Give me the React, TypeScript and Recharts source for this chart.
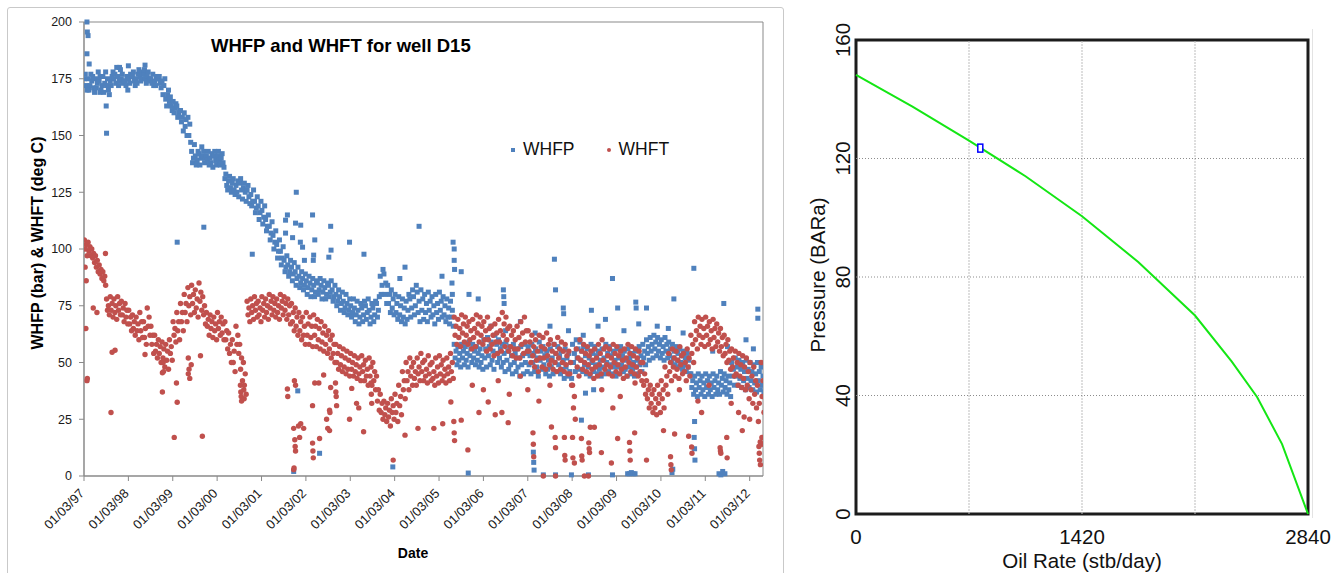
import React from "react";
import {
  ScatterChart,
  Scatter,
  LineChart,
  Line,
  XAxis,
  YAxis,
  Legend,
  ReferenceArea,
  ReferenceLine,
  ReferenceDot,
} from "recharts";

const FONT = "'Liberation Sans', Arial, Helvetica, sans-serif";
const BLUE = "#4F81BD";
const RED = "#C0504D";

// yearly date ticks, first of March
const dateLabels = [
  "01/03/97", "01/03/98", "01/03/99", "01/03/00", "01/03/01", "01/03/02",
  "01/03/03", "01/03/04", "01/03/05", "01/03/06", "01/03/07", "01/03/08",
  "01/03/09", "01/03/10", "01/03/11", "01/03/12",
];

// wellhead flowing pressure (bar), four readings per month from Mar 1997
const whfpMonthly: number[][] = [
  [175,172,177,170],[175,172,170,177],[174,171,176,169],[175,173,171,178],[174,170,176,172],[176,173,169,178],
  [172,170,175,168],[174,176,172,178],[175,173,177,180],[176,174,172,179],[175,173,177,174],[174,176,172,170],
  [175,177,173,176],[176,174,178,172],[175,177,173,179],[176,178,174,175],[177,175,179,173],[176,174,178,175],
  [175,177,173,172],[174,176,172,175],[175,173,176,171],[174,172,168,175],[166,168,163,170],[165,163,167,161],
  [165,162,160,164],[163,160,158,161],[161,158,156,152],[160,157,154,150],[158,155,150,147],[143,140,138,146],
  [141,139,137,143],[142,140,137,145],[141,138,143,140],[141,143,139,137],[140,142,138,136],[141,139,143,137],
  [141,139,143,137],[140,138,142,136],[131,128,133,126],[130,127,132,125],[129,126,131,124],[128,130,125,123],
  [129,126,131,122],[127,125,129,121],[126,123,128,120],[124,121,119,126],[121,118,116,123],[119,116,113,121],
  [117,114,111,119],[113,110,108,115],[110,107,104,112],[106,103,100,108],[102,99,96,104],[99,96,93,101],
  [95,92,90,97],[93,90,88,95],[92,89,86,94],[90,87,84,92],[88,85,83,90],[87,84,82,89],
  [86,83,80,88],[85,82,79,87],[84,81,79,86],[85,82,80,87],[84,81,78,86],[83,80,78,85],
  [84,81,79,86],[82,79,77,84],[80,77,75,82],[79,76,73,81],[77,74,72,80],[76,73,71,78],
  [75,72,70,78],[74,71,68,77],[73,70,67,76],[74,71,68,77],[75,72,69,78],[73,70,67,76],
  [74,71,68,77],[76,73,70,79],[88,84,80,91],[89,85,80,76],[84,80,76,72],[82,78,74,71],
  [80,76,72,69],[79,75,71,68],[78,74,70,67],[77,73,69,80],[78,74,70,82],[79,75,71,84],
  [81,77,72,68],[82,78,73,69],[80,76,72,68],[81,77,73,70],[79,75,71,67],[80,76,72,69],
  [81,77,73,70],[79,75,71,68],[78,74,70,67],[77,73,70,66],[58,55,52,49],[57,54,51,48],
  [58,55,52,49],[57,54,51,48],[59,56,53,50],[58,55,52,49],[57,54,51,48],[56,53,50,47],
  [60,56,52,48],[61,57,53,49],[59,55,51,47],[62,58,54,50],[60,56,52,48],[58,54,50,46],
  [59,55,51,47],[57,53,49,45],[58,54,50,46],[56,52,48,44],[57,53,49,45],[58,54,50,46],
  [57,53,49,45],[58,54,50,46],[56,52,48,44],[59,55,51,47],[57,53,49,45],[55,51,47,44],
  [56,52,48,45],[58,54,50,46],[57,53,49,45],[55,51,47,43],[56,52,48,44],[54,50,46,43],
  [58,54,50,46],[60,56,52,47],[59,55,51,46],[57,53,49,45],[56,52,48,44],[58,54,50,46],
  [57,53,49,45],[55,51,47,44],[56,52,48,45],[58,54,50,46],[57,53,49,45],[55,51,48,44],
  [56,52,48,45],[57,53,49,46],[55,51,47,44],[56,52,48,45],[54,50,47,44],[55,51,48,45],
  [57,53,49,46],[58,55,52,49],[60,57,54,51],[61,58,55,52],[62,59,56,53],[61,58,55,52],
  [60,57,54,51],[61,58,55,52],[59,56,53,50],[58,55,52,49],[57,54,51,48],[56,53,50,47],
  [55,52,49,46],[54,51,48,45],[45,42,39,36],[44,41,38,35],[45,42,39,36],[44,41,38,35],
  [45,42,39,36],[44,41,38,35],[45,42,39,36],[44,41,38,36],[46,43,40,37],[45,42,39,36],
  [44,41,38,35],[50,47,44,40],[52,48,44,40],[51,47,43,39],[50,46,42,38],[51,47,43,39],
  [50,46,42,38],[49,45,41,37],[50,46,42,38],[48,44,40,37],
];

// wellhead flowing temperature (deg C), same sampling
const whftMonthly: number[][] = [
  [104,102,100,97],[103,101,99,97],[100,98,96,94],[97,95,92,90],[93,91,89,87],[90,88,86,84],
  [78,75,73,71],[79,76,73,70],[78,75,72,69],[79,76,73,71],[77,74,71,68],[76,73,70,67],
  [73,70,67,64],[71,68,65,62],[70,67,64,60],[72,68,64,61],[68,65,61,58],[74,70,66,62],
  [66,62,58,54],[62,58,55,52],[60,57,54,50],[59,56,52,48],[58,55,51,47],[60,57,54,51],
  [68,65,62,59],[72,68,64,60],[76,72,68,64],[80,76,72,68],[83,79,75,71],[84,80,76,72],
  [82,78,74,70],[85,81,77,73],[79,75,71,67],[72,69,66,62],[71,68,65,61],[70,67,64,60],
  [72,68,65,62],[70,67,63,60],[68,64,60,56],[63,58,54,50],[60,55,50,46],[66,62,58,54],
  [58,52,47,42],[50,45,40,36],[77,74,71,68],[78,75,72,69],[79,76,73,70],[77,74,71,68],
  [79,76,73,70],[78,75,72,69],[80,77,74,71],[79,76,73,70],[78,75,72,69],[80,77,74,71],
  [79,76,73,69],[78,75,71,67],[76,72,68,64],[74,70,66,62],[72,68,64,60],[70,66,62,58],
  [72,67,62,58],[70,66,61,57],[71,66,62,57],[69,65,60,56],[68,63,59,55],[66,62,58,54],
  [64,60,56,52],[62,58,54,50],[58,54,50,47],[57,53,49,46],[56,52,48,45],[55,51,47,44],
  [54,50,47,44],[53,49,46,43],[52,48,45,42],[53,49,46,42],[51,47,44,40],[52,48,44,40],
  [50,46,42,38],[44,38,33,29],[36,32,28,25],[33,30,27,24],[32,29,26,22],[34,31,28,25],
  [36,32,28,24],[40,35,31,27],[46,42,38,34],[50,46,42,38],[52,48,44,40],[50,46,43,40],
  [52,48,45,42],[54,50,46,42],[51,47,44,41],[53,49,45,42],[50,46,43,40],[52,48,44,41],
  [53,49,45,42],[51,47,44,41],[52,48,45,42],[54,50,46,43],[70,66,62,58],[69,65,61,57],
  [71,67,63,59],[70,66,62,58],[68,64,60,56],[69,65,61,57],[71,67,63,59],[70,66,62,58],
  [68,64,60,55],[70,65,60,56],[66,62,58,53],[67,63,59,54],[69,64,59,55],[72,67,62,57],
  [70,65,60,55],[66,62,57,53],[64,60,56,52],[66,61,56,52],[68,63,58,54],[70,64,59,55],
  [64,59,55,50],[62,57,53,48],[60,55,51,46],[62,57,52,48],[61,56,52,47],[63,58,53,49],
  [60,55,51,47],[58,54,50,46],[61,56,52,47],[59,55,50,46],[58,53,49,45],[55,50,45,40],
  [40,35,30,25],[56,52,48,44],[60,55,51,47],[58,54,50,46],[57,53,49,45],[55,51,47,43],
  [56,52,48,44],[58,54,49,45],[60,56,51,47],[57,53,49,45],[56,52,48,44],[58,54,50,46],
  [57,53,49,45],[55,51,47,43],[56,52,48,44],[58,54,50,46],[57,53,49,45],[56,52,48,44],
  [55,50,46,42],[50,45,40,36],[42,38,34,30],[40,36,32,28],[38,34,30,27],[40,36,32,28],
  [42,38,34,30],[48,44,40,36],[54,50,46,42],[56,52,48,44],[55,51,47,43],[57,53,49,45],
  [54,50,46,42],[56,52,48,44],[62,58,54,50],[68,64,60,56],[70,66,62,58],[69,65,61,57],
  [70,66,62,58],[68,64,60,56],[69,65,61,57],[67,63,59,55],[65,61,57,53],[62,58,54,50],
  [60,55,51,47],[56,52,48,44],[55,50,45,40],[54,49,44,39],[53,48,43,38],[52,46,40,34],
  [50,44,38,32],[48,42,36,30],[40,32,24,15],[50,42,35,28],
];

// isolated pressure readings off the trend: [month, bar]
const whfpSpikes: [number, number][] = [
  [0.8,200],[0.9,195.6],[1.1,194],[0.8,186],[1.4,181.5],[6.0,163],[6.1,151],[4.3,169],[9.6,180],[12,180.7],
  [16.5,181],[25.2,103],[32.4,109.6],[45.5,97.7],[57.4,125],[55,115],[54.5,112.7],[57.2,111.4],[58.6,110.5],
  [61.8,115],[66.7,110],[62.4,104],[66.8,99.5],[71.8,103],[75.7,97.7],[66.2,96.4],[62,95],[58.5,103],
  [59.1,100.8],[62.1,97.3],[56.4,105],[54.5,107],[59.6,95],[90.6,110],[99.8,103],[100.1,100],[100.1,95],
  [100.2,91],[102,90],[86.8,92],[127.2,95.5],[127.5,82],[142.9,87],[164.9,91.5],[173,76],[182.2,73.5],
  [182.2,69.5],[159.5,78],[149.2,76.6],[149.3,74],[152.1,74],[144.3,74],[137.2,73],[129.6,74],[129.7,71.5],
  [113.4,82],[113.5,79],[113.6,76],[104.1,80],[106.6,78],[85.4,87],[96.8,88],[99.5,85],[99.6,80],
  [110,66],[114,64],[118,68],[122,63],[126,66],[131,64],[135,62],[139,66],[141,69],[146,64],[150,67],
  [155,66],[158,65],[162,63],[170,55],[174,57],[179,60],[181,56],
  [57.8,37.5],[56.7,2],[63.7,10],[83.5,4],[103.9,1.3],[121.5,10.5],[121.6,6],[121.7,2.6],[124.2,0.5],
  [127.5,0.5],[131.8,0.5],[134.5,24.6],[135.6,36.5],[137.8,38],[136.4,0.5],[142.9,0.5],[147,1],[147.5,1],
  [148,1.5],[148.5,1],[149,1],[159,1.5],[159.2,3],[165,17],[165.1,12],[165.2,7],[165.1,24],[171.7,1],
  [172.2,0.5],[172.7,2],[173.3,1],
];

// isolated temperature readings off the trend: [month, deg C]
const whftSpikes: [number, number][] = [
  [0.3,92],[0.6,86],[0.5,65],[0.9,43],[0.8,42],[5.8,98],[2.5,74],[3.5,72],[7.3,28],[7.6,54.5],[8.4,55.4],
  [16.5,53.5],[21.2,45.5],[21.2,37],[21.4,50],[21.5,46],[24.4,17],[25.2,32.5],[25,41],[28.2,45],[28.4,47],
  [28.6,43],[28.2,52],[29,49],[31.5,53],[32,17.5],[42.3,40],[42.4,37],[42.5,35],[42.6,33],[43.2,38],
  [43.3,34],[55,38.3],[55.1,35],[56.9,42],[57.2,40],[56.7,21],[57,16],[57.1,13],[57.2,11],[56.7,2.8],
  [56.8,3.5],[58,22],[58.6,23],[59.4,21],[58.3,17],[61.8,31],[61.8,14.5],[61.9,11],[62,8],[62.4,41],
  [63.5,41],[63.7,16.5],[64.8,44.5],[65.6,25],[65.9,21],[66.4,29],[66.5,28],[66.4,20],[66.7,39],[68,41],
  [68.1,37],[68.2,35],[68.3,31],[71.8,25],[72.4,38.6],[73.7,32],[74.3,30],[75.6,19.5],[77.6,41],[77.7,36],
  [77.8,32],[83.6,7],[86.8,18],[90.3,21],[94.6,21],[97,23],[100,24],[100.1,19],[100.2,15.6],[102,24.6],
  [103.8,11.5],[99.2,32.6],[106.8,28],[109.3,32.6],[111.2,27],[113,28],[114.7,23.5],[121.4,19],[121.5,14],
  [121.6,8.5],[124.2,0],[127.5,0],[126.4,21.6],[127.4,17],[127.5,12.5],[129.9,17],[130,9],[130.1,7],
  [132.1,17],[132.2,8],[132.6,5.7],[134.5,16.5],[134.6,8.8],[134.7,7],[135.3,0],[136.4,0],[136.5,14.6],
  [136.6,12],[136.7,10.3],[136.9,21.5],[138,21.5],[139.9,10.3],[142.6,5.7],[144.3,16.5],[147.5,14.8],
  [147.6,11],[147.7,7],[148.9,19],[152.1,7],[156.7,20],[158.6,8.5],[158.7,5],[158.8,2.7],[159.7,18.5],
  [163.5,17.5],[164.3,12.8],[164.4,10],[172,12.5],[172.1,11],[172.2,10],[173.8,17],[173.9,8],[178,20],
  [178.5,26],[182.5,13],[182.6,10],[182.7,7],[182.9,5],[183.3,17],[183.4,14],
  [105,40],[108,38],[112,42],[115,36],[118,44],[120,38],[123,33],[126,40],[140,38],[143,30],[145,35],
  [149,41],[161,38],[166,33],[167,28],[169,40],[175,32],[177,28],[180,25],
];

// inflow performance curve
const iprRate = [0, 355, 710, 1065, 1420, 1775, 2130, 2360, 2520, 2677, 2840];
const iprPressure = [148.2, 137.5, 126, 114, 100.5, 85, 67, 51.5, 39.5, 23.6, 0];
const operatingPoint = { rate: 781, pressure: 123.5 };

const rateTicks = [0, 1420, 2840];
const rateGrid = [710, 1420, 2130];
const pressureTicks = [0, 40, 80, 120, 160];
const pressureGrid = [40, 80, 120];

// spread the four monthly readings across the month
const SLOT = [0.1, 0.6, 0.35, 0.85];

function toPoints(monthly: number[][], spikes: [number, number][]) {
  const pts: { x: number; y: number }[] = [];
  monthly.forEach((vals, m) => vals.forEach((v, k) => pts.push({ x: m + SLOT[k], y: v })));
  spikes.forEach(([m, v]) => pts.push({ x: m, y: v }));
  return pts;
}

const whfpPoints = toPoints(whfpMonthly, whfpSpikes);
const whftPoints = toPoints(whftMonthly, whftSpikes);
const iprData = iprRate.map((rate, i) => ({ rate, pressure: iprPressure[i] }));

const SquareDot = (p: any) => (
  <rect x={p.cx - 2.5} y={p.cy - 2.5} width={5} height={5} fill={BLUE} />
);
const RoundDot = (p: any) => <circle cx={p.cx} cy={p.cy} r={2.7} fill={RED} />;

const DateTick = ({ x, y, payload }: any) => {
  const ax = x - 2;
  const ay = y + 8;
  return (
    <text
      x={ax}
      y={ay}
      dy="0.35em"
      textAnchor="end"
      transform={`rotate(-45 ${ax} ${ay})`}
      fontSize={13}
      fontFamily={FONT}
      fill="#1a1a1a"
    >
      {dateLabels[Math.round(payload.value / 12)]}
    </text>
  );
};

const FixedTitle = ({ px, py, text, size, rotate }: any) => (
  <text
    transform={`translate(${px} ${py})${rotate ? " rotate(-90)" : ""}`}
    textAnchor="middle"
    dy="0.35em"
    fontSize={size}
    fontWeight="bold"
    fontFamily={FONT}
    fill="#000"
  >
    {text}
  </text>
);

const SeriesLegend = ({ payload }: any) => (
  <div style={{ display: "flex", alignItems: "center", fontFamily: FONT, fontSize: 17.5, color: "#111" }}>
    {(payload ?? []).map((item: any, i: number) => (
      <span key={item.value} style={{ display: "flex", alignItems: "center", marginRight: 32 }}>
        <span
          style={{
            display: "inline-block",
            width: 4,
            height: 4,
            background: i === 0 ? BLUE : RED,
            borderRadius: i === 0 ? 0 : 2,
            marginRight: 8,
          }}
        />
        {item.value}
      </span>
    ))}
  </div>
);

const RateTick = ({ x, payload }: any) => (
  <text x={x} y={544} textAnchor="middle" fontSize={20.5} fontFamily={FONT} fill="#111">
    {payload.value}
  </text>
);

const PressureTick = ({ y, payload }: any) => (
  <text
    transform={`translate(53 ${y}) rotate(-90)`}
    textAnchor="middle"
    dy="0.35em"
    fontSize={20.5}
    fontFamily={FONT}
    fill="#111"
  >
    {payload.value}
  </text>
);

const PlainTitle = ({ px, py, text, rotate }: any) => (
  <text
    transform={`translate(${px} ${py})${rotate ? " rotate(-90)" : ""}`}
    textAnchor="middle"
    dy="0.35em"
    fontSize={20.5}
    fontFamily={FONT}
    fill="#111"
  >
    {text}
  </text>
);

const OperatingMarker = (p: any) => (
  <rect x={p.cx - 2.5} y={p.cy - 4} width={5} height={8} fill="#fff" stroke="#0000ff" strokeWidth={1.5} />
);

export default function App() {
  return (
    <div
      style={{
        position: "absolute",
        left: 0,
        top: 0,
        width: 1337,
        height: 573,
        overflow: "hidden",
        background: "#fff",
      }}
    >
      <div
        style={{
          position: "absolute",
          left: 7,
          top: 7,
          width: 775,
          height: 640,
          border: "1px solid #c9c9c9",
          borderRadius: 3,
        }}
      />
      <div style={{ position: "absolute", left: 1312, top: 29, width: 1, height: 489, background: "#e3e3e3" }} />

      <div style={{ position: "absolute", left: 0, top: 0 }}>
        <ScatterChart width={790} height={573} margin={{ top: 22, right: 27, bottom: 27, left: 24 }}>
          <XAxis
            type="number"
            dataKey="x"
            domain={[0, 183.6]}
            allowDataOverflow
            ticks={dateLabels.map((_, i) => i * 12)}
            interval={0}
            height={70}
            tickSize={5}
            axisLine={{ stroke: "#898989" }}
            tickLine={{ stroke: "#898989" }}
            tick={<DateTick />}
            label={<FixedTitle px={413} py={553} text="Date" size={14} />}
          />
          <YAxis
            type="number"
            dataKey="y"
            domain={[0, 200]}
            ticks={[0, 25, 50, 75, 100, 125, 150, 175, 200]}
            width={60}
            tickSize={5}
            tickMargin={7}
            axisLine={{ stroke: "#898989" }}
            tickLine={{ stroke: "#898989" }}
            tick={{ fontSize: 12.5, fill: "#1a1a1a", fontFamily: FONT }}
            label={<FixedTitle px={37} py={243} text="WHFP (bar) & WHFT (deg C)" size={16} rotate />}
          />
          <ReferenceArea x1={0} x2={183.6} y1={0} y2={200} fill="none" stroke="#898989" />
          <Scatter name="WHFP" data={whfpPoints} fill={BLUE} shape={SquareDot} isAnimationActive={false} />
          <Scatter name="WHFT" data={whftPoints} fill={RED} shape={RoundDot} isAnimationActive={false} />
          <Legend
            layout="horizontal"
            verticalAlign="middle"
            align="center"
            content={<SeriesLegend />}
            wrapperStyle={{ left: 511, top: 139, width: 220 }}
          />
          <text x={211} y={52} fontSize={18.5} fontWeight="bold" fontFamily={FONT} fill="#000">
            WHFP and WHFT for well D15
          </text>
        </ScatterChart>
      </div>

      <div style={{ position: "absolute", left: 790, top: 0 }}>
        <LineChart width={547} height={573} data={iprData} margin={{ top: 40, right: 29, bottom: 0, left: 0 }}>
          <XAxis
            type="number"
            dataKey="rate"
            domain={[0, 2840]}
            ticks={rateTicks}
            interval={0}
            height={59}
            axisLine={false}
            tickLine={false}
            tick={<RateTick />}
            label={<PlainTitle px={292} py={561} text="Oil Rate (stb/day)" />}
          />
          <YAxis
            type="number"
            domain={[0, 160]}
            ticks={pressureTicks}
            interval={0}
            width={66}
            axisLine={false}
            tickLine={false}
            tick={<PressureTick />}
            label={<PlainTitle px={28} py={275} text="Pressure (BARa)" rotate />}
          />
          {rateGrid.map((r) => (
            <ReferenceLine key={`v${r}`} x={r} stroke="#bdbdbd" strokeDasharray="2 1" />
          ))}
          {pressureGrid.map((p) => (
            <ReferenceLine key={`h${p}`} y={p} stroke="#8c8c8c" strokeDasharray="1 2" />
          ))}
          <Line
            dataKey="pressure"
            type="linear"
            stroke="#14e614"
            strokeWidth={2}
            dot={false}
            isAnimationActive={false}
          />
          <ReferenceArea x1={0} x2={2840} y1={0} y2={160} fill="none" stroke="#1c1c1c" strokeWidth={3} />
          <ReferenceDot x={operatingPoint.rate} y={operatingPoint.pressure} shape={OperatingMarker} />
        </LineChart>
      </div>
    </div>
  );
}
